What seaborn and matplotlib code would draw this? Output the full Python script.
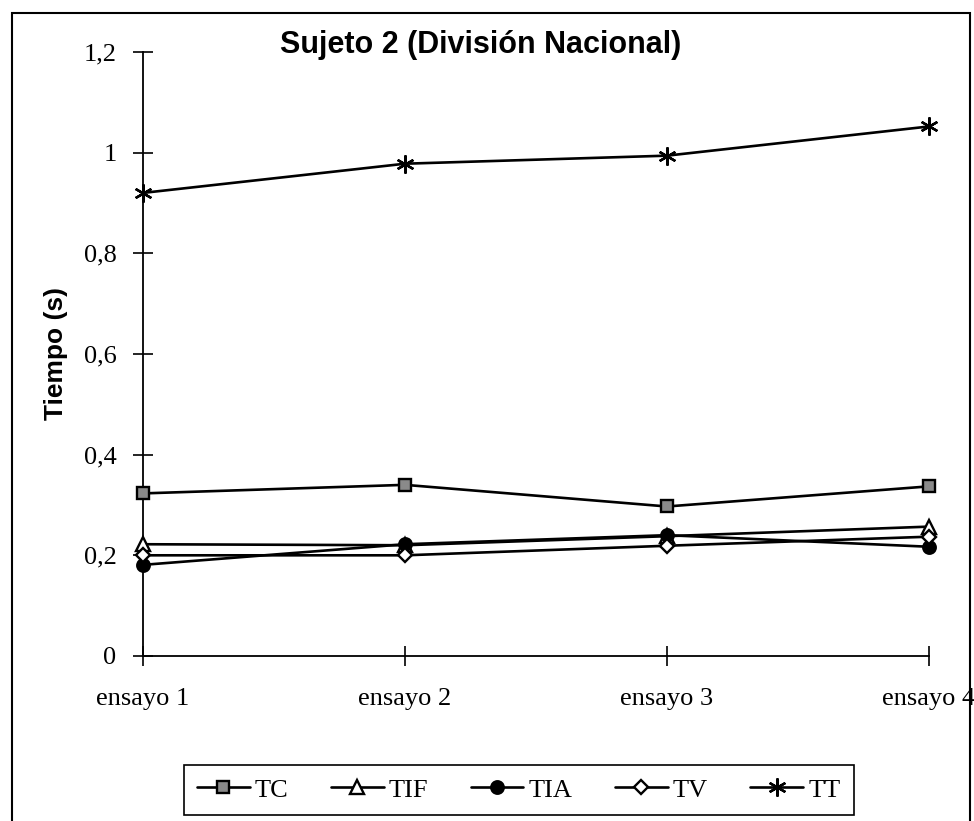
import matplotlib
matplotlib.use("Agg")
import matplotlib.pyplot as plt
from matplotlib.patches import Rectangle
import seaborn as sns
import pandas as pd

categories = ["ensayo 1", "ensayo 2", "ensayo 3", "ensayo 4"]
TC = [0.323, 0.340, 0.297, 0.337]
TIF = [0.222, 0.220, 0.238, 0.257]
TIA = [0.181, 0.222, 0.240, 0.217]
TV = [0.200, 0.200, 0.219, 0.237]
TT = [0.920, 0.978, 0.994, 1.052]
series_names = ["TC", "TIF", "TIA", "TV", "TT"]
series_values = [TC, TIF, TIA, TV, TT]
ytick_vals = [0, 0.2, 0.4, 0.6, 0.8, 1.0, 1.2]
ytick_labels = ["0", "0,2", "0,4", "0,6", "0,8", "1", "1,2"]
title = "Sujeto 2 (División Nacional)"
ylabel = "Tiempo (s)"

rows = []
for name, vals in zip(series_names, series_values):
    for i, v in enumerate(vals):
        rows.append({"serie": name, "x": i, "valor": v})
df = pd.DataFrame(rows)

sns.set_style("white")
plt.rcParams["font.family"] = ["Liberation Serif", "DejaVu Serif"]
plt.rcParams["text.color"] = "black"
plt.rcParams["axes.labelcolor"] = "black"

fig = plt.figure(figsize=(9.74, 8.21), dpi=100)
ax = fig.add_axes([0.1468, 0.2010, 0.9538 - 0.1468, 0.9367 - 0.2010])

styles = {
    "TC": dict(marker="s", mfc="#8a8a8a", ms=9),
    "TIF": dict(marker="^", mfc="white", ms=10),
    "TIA": dict(marker="o", mfc="black", ms=9),
    "TV": dict(marker="D", mfc="white", ms=7.5),
    "TT": dict(marker=(6, 2, 0), mfc="black", ms=13),
}

for name in series_names:
    st = styles[name]
    sns.lineplot(data=df[df["serie"] == name], x="x", y="valor", ax=ax,
                 color="black", linewidth=1.9, marker=st["marker"],
                 markersize=st["ms"], markerfacecolor=st["mfc"],
                 markeredgecolor="black", markeredgewidth=1.7,
                 label=name, legend=False, clip_on=False, zorder=3)

ax.set_xlim(0, 3)
ax.set_ylim(0, 1.2)
ax.set_xticks(range(len(categories)))
ax.set_xticklabels(categories)
ax.set_yticks(ytick_vals)
ax.set_yticklabels(ytick_labels)
ax.tick_params(axis="both", direction="inout", length=14, width=1.2,
               labelsize=19, colors="black", bottom=True, left=True)
ax.tick_params(axis="x", pad=16)
ax.tick_params(axis="y", pad=12)
for s in ["top", "right"]:
    ax.spines[s].set_visible(False)
for s in ["left", "bottom"]:
    ax.spines[s].set_color("black")
    ax.spines[s].set_linewidth(1.3)
ax.set_xlabel("")
ax.set_ylabel(ylabel, family=["Liberation Sans", "DejaVu Sans"],
              fontweight="bold", fontsize=19, color="black")
ax.yaxis.set_label_coords(-0.096, 0.5)

fig.text(0.493, 1 - 53 / 821, title, family=["Liberation Sans", "DejaVu Sans"],
         fontweight="bold", fontsize=22, ha="center", va="baseline",
         color="black")

handles, labels = ax.get_legend_handles_labels()
leg = fig.legend(handles, labels, loc="center", ncol=5,
                 bbox_to_anchor=(0.5325, 0.038), frameon=True,
                 fancybox=False, edgecolor="black", framealpha=1,
                 fontsize=19, handlelength=2.0, handletextpad=0.2,
                 columnspacing=1.6, borderpad=0.5)
leg.get_frame().set_linewidth(1.2)

fig.patches.append(Rectangle((12 / 974, -0.05), (970 - 12) / 974,
                             1 - 13 / 821 + 0.05, transform=fig.transFigure,
                             fill=False, edgecolor="black", linewidth=1.5))

fig.savefig("out.png", dpi=100)
